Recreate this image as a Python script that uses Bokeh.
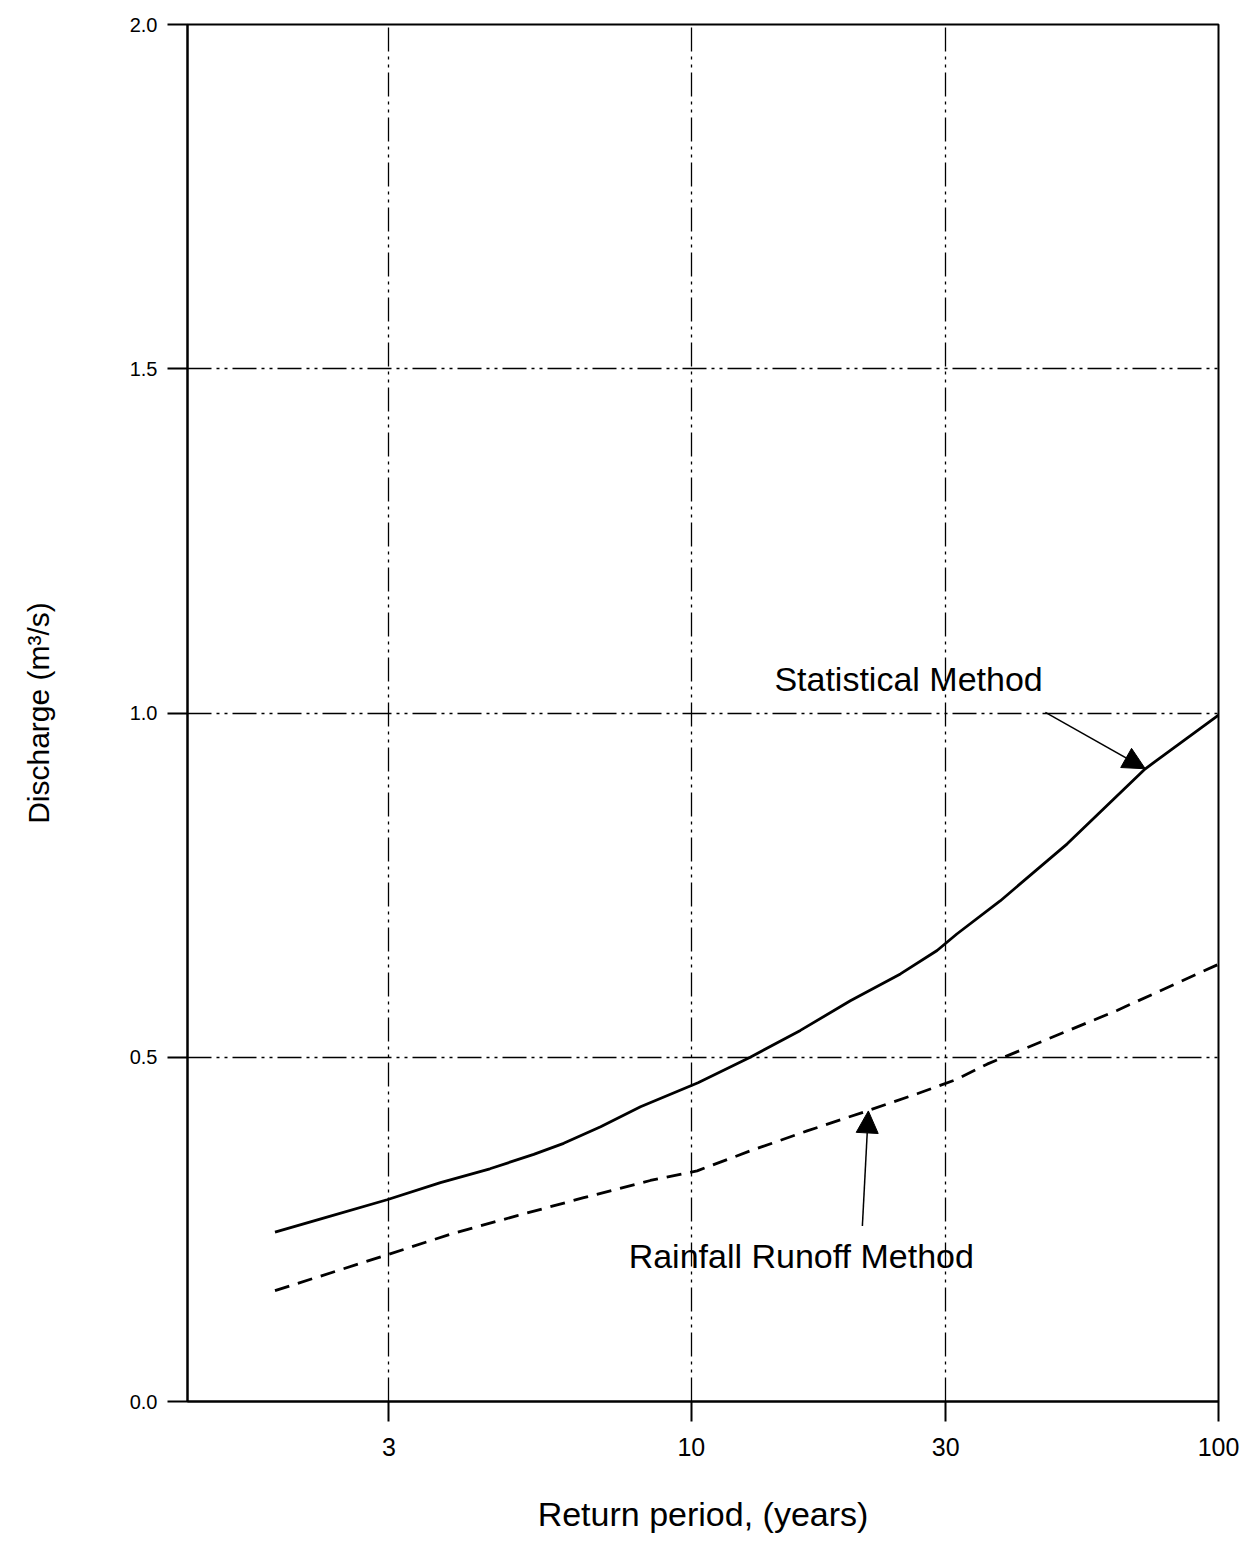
import numpy as np
from bokeh.plotting import figure
from bokeh.models import (Range1d, FixedTicker, CustomJSTickFormatter, PrintfTickFormatter,
                          Arrow, NormalHead, Label)
from bokeh.embed import file_html
from bokeh.resources import INLINE

# ---- data (return period in years, discharge in m3/s) ----
T_stat = [2.04, 2.36, 2.98, 3.63, 4.39, 5.22, 5.89, 6.85, 8.08, 10.29, 12.85,
          15.94, 19.79, 24.61, 28.89, 31.5, 38.1, 51.2, 72.3, 100]
Q_stat = [0.246, 0.265, 0.293, 0.318, 0.338, 0.359, 0.375, 0.399, 0.428, 0.463,
          0.500, 0.539, 0.582, 0.621, 0.655, 0.679, 0.727, 0.810, 0.919, 0.997]

T_rr = [2.04, 2.98, 3.77, 4.89, 6.39, 8.42, 10.25, 12.85, 16.41, 21.28, 26.48,
        31.5, 35.98, 63.8, 100]
Q_rr = [0.161, 0.213, 0.243, 0.270, 0.296, 0.321, 0.335, 0.364, 0.393, 0.422,
        0.447, 0.468, 0.490, 0.568, 0.635]

x_tick_T = [3, 10, 30, 100]
y_ticks = [0.0, 0.5, 1.0, 1.5, 2.0]


def gumbel(T):
    """Gumbel (extreme value) reduced variate of a return period."""
    T = np.asarray(T, dtype=float)
    return -np.log(-np.log(1.0 - 1.0 / T))


FONT = "Liberation Sans"

p = figure(width=1252, height=1541,
           x_range=Range1d(0.005, float(gumbel(100))), y_range=Range1d(0, 2),
           output_backend="svg", toolbar_location=None,
           min_border_left=187, min_border_right=34, min_border_top=24,
           min_border_bottom=140)

p.background_fill_color = "white"
p.border_fill_color = "white"
p.outline_line_color = "black"
p.outline_line_width = 2
p.outline_line_alpha = 1

# x axis (Gumbel probability scale)
p.xaxis.ticker = FixedTicker(ticks=[float(v) for v in gumbel(x_tick_T)])
p.xaxis.formatter = CustomJSTickFormatter(
    code="const T = 1/(1-Math.exp(-Math.exp(-tick))); return Math.round(T).toString();")
p.xaxis.axis_label = "Return period, (years)"
p.xaxis.major_label_text_font_size = "25px"
p.xaxis.major_label_standoff = 16
p.xaxis.axis_label_standoff = 36

# y axis
p.yaxis.ticker = FixedTicker(ticks=y_ticks)
p.yaxis.formatter = PrintfTickFormatter(format="%.1f")
p.yaxis.axis_label = "Discharge (m³/s)"
p.yaxis.major_label_text_font_size = "20px"
p.yaxis.major_label_standoff = 10
p.yaxis.axis_label_standoff = 72

for ax in (p.xaxis[0], p.yaxis[0]):
    ax.major_tick_out = 20
    ax.major_tick_in = 0
    ax.minor_tick_line_color = None
    ax.major_tick_line_width = 2
    ax.major_tick_line_color = "black"
    ax.axis_line_width = 2
    ax.axis_line_color = "black"
    ax.major_label_text_font = FONT
    ax.major_label_text_color = "black"
    ax.axis_label_text_font = FONT
    ax.axis_label_text_font_style = "normal"
    ax.axis_label_text_color = "black"
p.xaxis.axis_label_text_font_size = "34px"
p.yaxis.axis_label_text_font_size = "30px"

for g in (p.xgrid[0], p.ygrid[0]):
    g.grid_line_color = "black"
    g.grid_line_width = 1.3
    g.grid_line_dash = "24 5 3 5 3 5"

# curves
p.line(x=gumbel(T_stat), y=Q_stat, line_color="black", line_width=2.8)
p.line(x=gumbel(T_rr), y=Q_rr, line_color="black", line_width=2.8, line_dash="15 9")

# annotations
p.add_layout(Label(x=float(gumbel(25.5)), y=1.05, text="Statistical Method",
                   text_align="center", text_baseline="middle",
                   text_font_size="34px", text_font=FONT, text_color="black"))
p.add_layout(Label(x=float(gumbel(16.0)), y=0.212, text="Rainfall Runoff Method",
                   text_align="center", text_baseline="middle",
                   text_font_size="34px", text_font=FONT, text_color="black"))

p.add_layout(Arrow(end=NormalHead(size=22, fill_color="black", line_color="black"),
                   x_start=float(gumbel(46.5)), y_start=1.001,
                   x_end=float(gumbel(72.3)), y_end=0.919,
                   line_color="black", line_width=1.5))
p.add_layout(Arrow(end=NormalHead(size=22, fill_color="black", line_color="black"),
                   x_start=float(gumbel(20.85)), y_start=0.255,
                   x_end=float(gumbel(21.4)), y_end=0.422,
                   line_color="black", line_width=1.5))

open("out.html", "w").write(file_html(p, INLINE))
